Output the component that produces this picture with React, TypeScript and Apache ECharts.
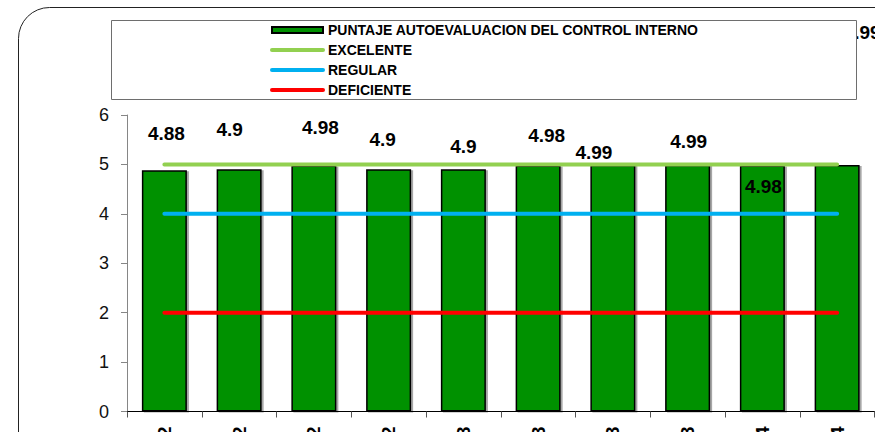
import React, { useEffect, useRef } from "react";
import * as echarts from "echarts";

const categories = [
  "I TRIM 2012",
  "II TRIM 2012",
  "III TRIM 2012",
  "IV TRIM 2012",
  "I TRIM 2013",
  "II TRIM 2013",
  "III TRIM 2013",
  "IV TRIM 2013",
  "I TRIM 2014",
  "II TRIM 2014",
];
const puntaje = [4.88, 4.9, 4.98, 4.9, 4.9, 4.98, 4.99, 4.99, 4.98, 4.99];
const excelente = [5, 5, 5, 5, 5, 5, 5, 5, 5, 5];
const regular = [4, 4, 4, 4, 4, 4, 4, 4, 4, 4];
const deficiente = [2, 2, 2, 2, 2, 2, 2, 2, 2, 2];
const yTicks = { min: 0, max: 6, interval: 1 };

// label offsets (style only): manual placement as in the original
const labelOffsets: [number, number][] = [
  [2, -27],
  [-9.5, -30],
  [6.5, -28.5],
  [-6, -20.5],
  [0, -13],
  [8.5, -20],
  [-19, -3],
  [1, -14],
  [1, 30.5],
  [25, -122.5],
];

const FONT = "'Liberation Sans', Arial, Helvetica, sans-serif";
const GREEN = "#92D050";
const BLUE = "#00B0F0";
const RED = "#FF0000";
const hiddenDot = { color: "rgba(0,0,0,0)", borderWidth: 0, borderColor: "rgba(0,0,0,0)" };

export default function App() {
  const ref = useRef<HTMLDivElement>(null);
  useEffect(() => {
    document.body.style.margin = "0";
    if (!ref.current) return;
    const chart = echarts.init(ref.current, null, { renderer: "svg" });
    chart.setOption({
      animation: false,
      backgroundColor: "#ffffff",
      textStyle: { fontFamily: FONT },
      grid: {
        left: 127,
        right: 0.5,
        top: 115,
        bottom: 20.5,
        containLabel: false,
        outerBoundsMode: "none",
      },
      graphic: {
        elements: [
          {
            type: "rect",
            z: 0,
            shape: { x: 18.5, y: 7.5, width: 950, height: 600, r: 31 },
            style: { fill: "none", stroke: "#222", lineWidth: 1 },
            silent: true,
          },
          {
            type: "rect",
            z: 50,
            shape: { x: 111.5, y: 20.5, width: 745, height: 79 },
            style: { fill: "#ffffff", stroke: "#6e6e6e", lineWidth: 1 },
            silent: true,
          },
        ],
      },
      legend: {
        z: 60,
        orient: "vertical",
        left: 270,
        top: 23,
        padding: 0,
        itemWidth: 51,
        itemHeight: 6,
        itemGap: 6,
        textStyle: { fontFamily: FONT, fontSize: 14, fontWeight: "bold", color: "#000" },
        data: [
          { name: "PUNTAJE AUTOEVALUACION DEL CONTROL INTERNO", icon: "rect" },
          { name: "EXCELENTE", itemStyle: hiddenDot, lineStyle: { color: GREEN, width: 4, cap: "round" } },
          { name: "REGULAR", itemStyle: hiddenDot, lineStyle: { color: BLUE, width: 4, cap: "round" } },
          { name: "DEFICIENTE", itemStyle: hiddenDot, lineStyle: { color: RED, width: 4, cap: "round" } },
        ],
      },
      xAxis: {
        type: "category",
        data: categories,
        axisLine: { show: true, lineStyle: { color: "#000", width: 1 } },
        axisTick: { show: true, length: 6, lineStyle: { color: "#555" } },
        axisLabel: {
          rotate: 90,
          margin: 15,
          fontFamily: FONT,
          fontSize: 19,
          fontWeight: "bold",
          color: "#000",
          interval: 0,
        },
        splitLine: { show: false },
      },
      yAxis: {
        type: "value",
        min: yTicks.min,
        max: yTicks.max,
        interval: yTicks.interval,
        axisLine: { show: true, lineStyle: { color: "#868686", width: 1 } },
        axisTick: { show: true, length: 6, lineStyle: { color: "#868686" } },
        axisLabel: { fontFamily: FONT, fontSize: 18, color: "#111", margin: 18 },
        splitLine: { show: false },
      },
      series: [
        {
          name: "PUNTAJE AUTOEVALUACION DEL CONTROL INTERNO",
          type: "bar",
          barWidth: 45,
          itemStyle: {
            color: "#009100",
            borderColor: "#000",
            borderWidth: 1.5,
            shadowColor: "rgba(0,0,0,0.35)",
            shadowOffsetX: 2,
            shadowOffsetY: 1,
            shadowBlur: 0,
          },
          data: puntaje.map((v, i) => ({
            value: v,
            label: { offset: labelOffsets[i] },
          })),
          label: {
            show: true,
            position: "top",
            distance: 0,
            fontFamily: FONT,
            fontSize: 19,
            fontWeight: "bold",
            color: "#000",
          },
        },
        {
          name: "EXCELENTE",
          type: "line",
          data: excelente,
          symbol: "none",
          color: GREEN,
          lineStyle: { color: GREEN, width: 4, cap: "round" },
        },
        {
          name: "REGULAR",
          type: "line",
          data: regular,
          symbol: "none",
          color: BLUE,
          lineStyle: { color: BLUE, width: 4, cap: "round" },
        },
        {
          name: "DEFICIENTE",
          type: "line",
          data: deficiente,
          symbol: "none",
          color: RED,
          lineStyle: { color: RED, width: 4, cap: "round" },
        },
      ],
    });
    return () => chart.dispose();
  }, []);
  return <div ref={ref} style={{ width: 875, height: 432 }} />;
}
